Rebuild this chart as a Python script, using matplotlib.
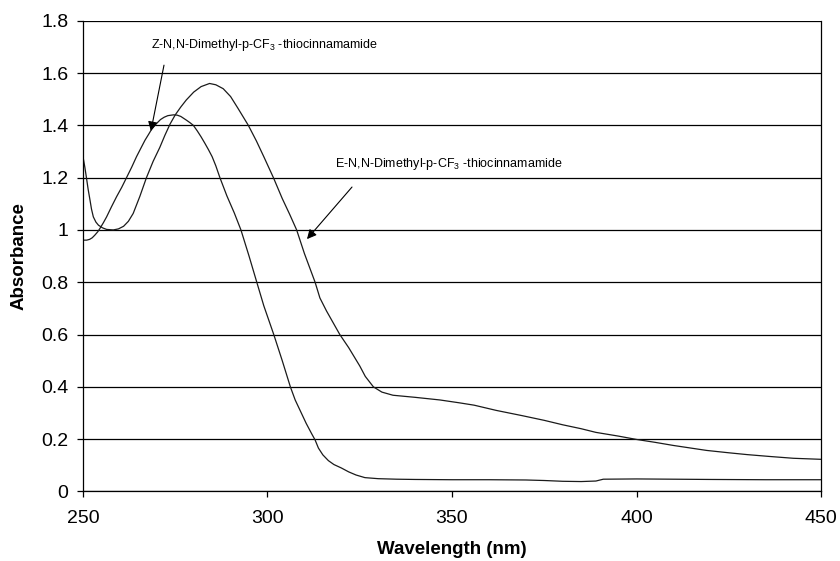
import matplotlib
matplotlib.use("Agg")
import matplotlib.pyplot as plt

plt.rcParams['font.family'] = ['Liberation Sans', 'DejaVu Sans']
plt.rcParams['mathtext.fontset'] = 'custom'
plt.rcParams['mathtext.rm'] = 'Liberation Sans'
plt.rcParams['mathtext.it'] = 'Liberation Sans:italic'
plt.rcParams['mathtext.bf'] = 'Liberation Sans:bold'

# Z isomer spectrum (wavelength nm, absorbance)
z_wl = [250, 251, 251.8, 252.5, 253.2, 254, 254.6, 255.5, 256.4, 257.7, 259.1, 260.5, 261.8,
        263.2, 264.5, 265.7, 266.8, 267.8, 268.6, 269.8, 271, 272, 273, 274.5, 275.5, 276.5,
        278, 279, 279.9, 281, 282, 283, 284, 285, 286, 287.1, 289, 291, 292.8, 295, 297.1,
        299, 301.7, 304, 306.2, 307.5, 308.8, 310.5, 312, 312.9, 313.8, 315, 316.5, 318, 320,
        322, 324, 326.4, 330, 335, 340, 350, 360, 370, 375, 380, 385, 389, 391, 400, 410,
        420, 435, 450]
z_abs = [0.961, 0.961, 0.964, 0.970, 0.980, 0.993, 1.006, 1.027, 1.05, 1.088, 1.127, 1.163, 1.20,
         1.24, 1.28, 1.313, 1.343, 1.366, 1.385, 1.405, 1.422, 1.431, 1.437, 1.44, 1.439, 1.434,
         1.42, 1.41, 1.40, 1.378, 1.356, 1.332, 1.307, 1.28, 1.245, 1.20, 1.13, 1.065, 1.00, 0.90, 0.80,
         0.71, 0.60, 0.50, 0.40, 0.35, 0.311, 0.26, 0.22, 0.197, 0.166, 0.14, 0.118, 0.103, 0.09,
         0.075, 0.063, 0.053, 0.049, 0.047, 0.046, 0.045, 0.045, 0.044, 0.042, 0.039, 0.038, 0.040,
         0.047, 0.048, 0.047, 0.046, 0.045, 0.045]

# E isomer spectrum
e_wl = [250, 250.5, 250.9, 251.4, 251.9, 252.3, 252.8, 253.5, 254.2, 255.3, 256.4, 258.2, 259.6,
        261, 262.3, 263.6, 265.4, 267.2, 269, 270.8, 272.2, 273.6, 275, 276.5, 278, 280, 282,
        284.3, 286, 288, 290, 292, 294.8, 297, 299, 301.6, 304, 306, 307.9, 310, 312.9, 314.2,
        316, 319.6, 322, 325, 326.5, 328.7, 331, 334, 340, 346.7, 352, 356, 362, 369, 375,
        380, 385, 389, 395, 400, 405, 410, 419, 425, 430, 436, 442.5, 450]
e_abs = [1.28, 1.24, 1.203, 1.155, 1.114, 1.08, 1.05, 1.03, 1.018, 1.008, 1.002, 1.0, 1.004,
         1.014, 1.033, 1.063, 1.128, 1.20, 1.262, 1.315, 1.362, 1.405, 1.44, 1.47, 1.497, 1.527, 1.548,
         1.56, 1.555, 1.54, 1.51, 1.465, 1.40, 1.34, 1.28, 1.20, 1.12, 1.06, 1.00, 0.91, 0.80, 0.74,
         0.69, 0.60, 0.55, 0.48, 0.44, 0.40, 0.38, 0.368, 0.36, 0.35, 0.339, 0.33, 0.31, 0.29, 0.272,
         0.255, 0.24, 0.226, 0.212, 0.199, 0.188, 0.176, 0.157, 0.148, 0.141, 0.134, 0.127, 0.123]

x_ticks = [250, 300, 350, 400, 450]
y_ticks = [0, 0.2, 0.4, 0.6, 0.8, 1.0, 1.2, 1.4, 1.6, 1.8]
y_labels = ['0', '0.2', '0.4', '0.6', '0.8', '1', '1.2', '1.4', '1.6', '1.8']

z_label = 'Z-N,N-Dimethyl-p-CF$_\\mathrm{3}$ -thiocinnamamide'
e_label = 'E-N,N-Dimethyl-p-CF$_\\mathrm{3}$ -thiocinnamamide'

fig = plt.figure(figsize=(8.4, 5.61), dpi=100)
ax = fig.add_axes([0.0988, 0.1239, 0.8786, 0.8392])

ax.set_xlim(250, 450)
ax.set_ylim(0, 1.8)
ax.set_xticks(x_ticks)
ax.set_yticks(y_ticks)
ax.set_yticklabels(y_labels)

ax.grid(axis='y', color='black', linewidth=0.9)
ax.set_axisbelow(True)

ax.plot(z_wl, z_abs, color='#1a1a1a', linewidth=0.9)
ax.plot(e_wl, e_abs, color='#1a1a1a', linewidth=0.9)

for s in ['left', 'bottom', 'right']:
    ax.spines[s].set_color('black')
    ax.spines[s].set_linewidth(0.9)
ax.spines['top'].set_visible(False)

ax.tick_params(axis='both', direction='out', length=4.5, width=0.9, labelsize=14, colors='black')
ax.tick_params(axis='x', pad=9)
ax.tick_params(axis='y', pad=6)

ax.set_xlabel('Wavelength (nm)', fontsize=13.5, fontweight='bold', labelpad=10)
ax.set_ylabel('Absorbance', fontsize=13.5, fontweight='bold', labelpad=10)

ax.annotate('', xy=(268.4, 1.378), xytext=(271.95, 1.630),
            arrowprops=dict(arrowstyle='-|>', color='black', lw=0.8, mutation_scale=14, shrinkA=0, shrinkB=0))
ax.text(268.4, 1.706, z_label, fontsize=9, ha='left', va='center')

ax.annotate('', xy=(310.7, 0.965), xytext=(322.9, 1.164),
            arrowprops=dict(arrowstyle='-|>', color='black', lw=0.8, mutation_scale=14, shrinkA=0, shrinkB=0))
ax.text(318.3, 1.251, e_label, fontsize=9, ha='left', va='center')

fig.savefig('out.png', dpi=100)
